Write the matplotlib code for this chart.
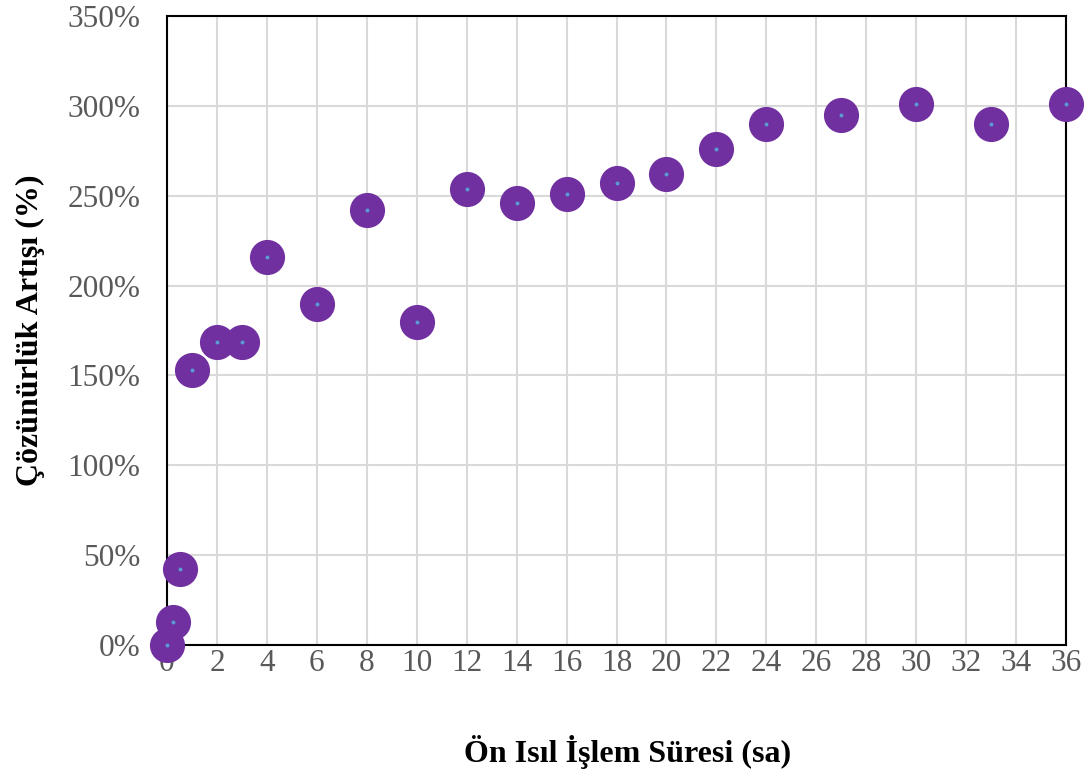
import matplotlib.pyplot as plt
from matplotlib.ticker import FuncFormatter

plt.rcParams['font.family'] = ['Liberation Serif', 'DejaVu Serif']

# pre-heat treatment time (h) and solubility increase (%)
sure = [0, 0.25, 0.5, 1, 2, 3, 4, 6, 8, 10, 12, 14, 16, 18, 20, 22, 24, 27, 30, 33, 36]
artis = [0, 13, 42, 153, 168.5, 168.5, 216, 190, 242, 180, 254, 246, 251, 257, 262,
         276, 290, 295, 301, 290, 301]

xticks = list(range(0, 37, 2))
yticks = list(range(0, 351, 50))

fig = plt.figure(figsize=(10.91, 7.78), dpi=100)
ax = fig.add_axes([0.1531, 0.171, 0.8240, 0.8084])

ax.scatter(sure, artis, s=640, color='#7030A0', zorder=3, clip_on=False, linewidths=0)
ax.scatter(sure, artis, s=8, color='#5B9BD5', zorder=4, clip_on=False, linewidths=0)

ax.set_xlim(0, 36)
ax.set_ylim(0, 350)
ax.set_xticks(xticks)
ax.set_yticks(yticks)
ax.yaxis.set_major_formatter(FuncFormatter(lambda v, p: f"{v:.0f}%"))
ax.grid(True, color='#D9D9D9', linewidth=1.5)
ax.set_axisbelow(True)
for s in ax.spines.values():
    s.set_color('black')
    s.set_linewidth(1.5)
ax.tick_params(length=0, labelsize=22.5, labelcolor='#595959')
ax.tick_params(axis='x', pad=3)
ax.tick_params(axis='y', pad=19)

ax.set_xlabel("Ön Isıl İşlem Süresi (sa)", fontsize=23, fontweight='bold', labelpad=41)
ax.set_ylabel("Çözünürlük Artışı (%)", fontsize=23, fontweight='bold', labelpad=16)
ax.xaxis.label.set_x(0.512)

fig.savefig('out.png', dpi=100)
